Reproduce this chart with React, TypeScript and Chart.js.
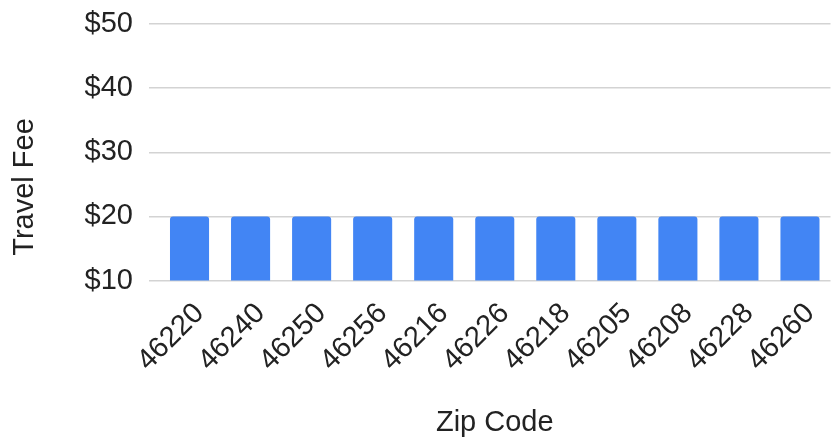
import React, { useEffect, useRef } from "react";
import { Chart, registerables } from "chart.js";

Chart.register(...registerables);

const zipCodes = ["46220", "46240", "46250", "46256", "46216", "46226", "46218", "46205", "46208", "46228", "46260"];
const travelFees = [20, 20, 20, 20, 20, 20, 20, 20, 20, 20, 20];
const yTicks = [10, 20, 30, 40, 50];
const xTitle = "Zip Code";
const yTitle = "Travel Fee";

const FONT = "'Liberation Sans', Arial, sans-serif";
const TEXT = "#222222";

const yTitlePlugin = {
  id: "yTitlePlugin",
  afterDraw(chart: any) {
    const ctx = chart.ctx;
    ctx.save();
    ctx.font = `29px ${FONT}`;
    ctx.fillStyle = TEXT;
    ctx.textAlign = "center";
    ctx.textBaseline = "middle";
    ctx.translate(25, 187);
    ctx.rotate(-Math.PI / 2);
    ctx.fillText(yTitle, 0, 0);
    ctx.restore();
  },
};

export default function App() {
  const ref = useRef<HTMLCanvasElement | null>(null);
  useEffect(() => {
    if (!ref.current) return;
    const chart = new Chart(ref.current, {
      type: "bar",
      data: {
        labels: zipCodes,
        datasets: [
          {
            label: yTitle,
            data: travelFees,
            backgroundColor: "#4285F4",
            borderRadius: 3,
            borderSkipped: "start",
            categoryPercentage: 1,
            barPercentage: 0.64,
          },
        ],
      },
      options: {
        responsive: false,
        animation: false,
        layout: { padding: { left: 0, right: 2.5, top: 24, bottom: 0 } },
        plugins: { legend: { display: false }, tooltip: { enabled: false } },
        scales: {
          x: {
            grid: { display: false },
            border: { display: false },
            ticks: {
              minRotation: 45,
              maxRotation: 45,
              color: TEXT,
              font: { family: FONT, size: 29 },
              padding: 8,
              labelOffset: 10,
            },
            title: {
              display: true,
              text: xTitle,
              color: TEXT,
              font: { family: FONT, size: 29 },
              padding: { top: 0, bottom: 0 },
            },
            afterFit: (scale: any) => {
              scale.height = 440 - 280.5;
            },
          },
          y: {
            min: 10,
            max: 50,
            afterBuildTicks: (scale: any) => {
              scale.ticks = yTicks.map((v) => ({ value: v }));
            },
            grid: { color: "#d3d3d3", lineWidth: 1.5, drawTicks: true, tickLength: 10, tickColor: "#d3d3d3" },
            border: { display: false },
            ticks: {
              color: TEXT,
              font: { family: FONT, size: 29 },
              padding: 16,
              callback: (v: any) => "$" + v,
            },
            afterFit: (scale: any) => {
              scale.width = 159;
              scale.paddingTop = 0;
              scale.paddingBottom = 0;
            },
          },
        },
      },
      plugins: [yTitlePlugin],
    });
    return () => chart.destroy();
  }, []);
  return (
    <div style={{ position: "fixed", left: 0, top: 0, width: 833, height: 440, background: "#fff" }}>
      <canvas ref={ref} width={833} height={440} />
    </div>
  );
}
